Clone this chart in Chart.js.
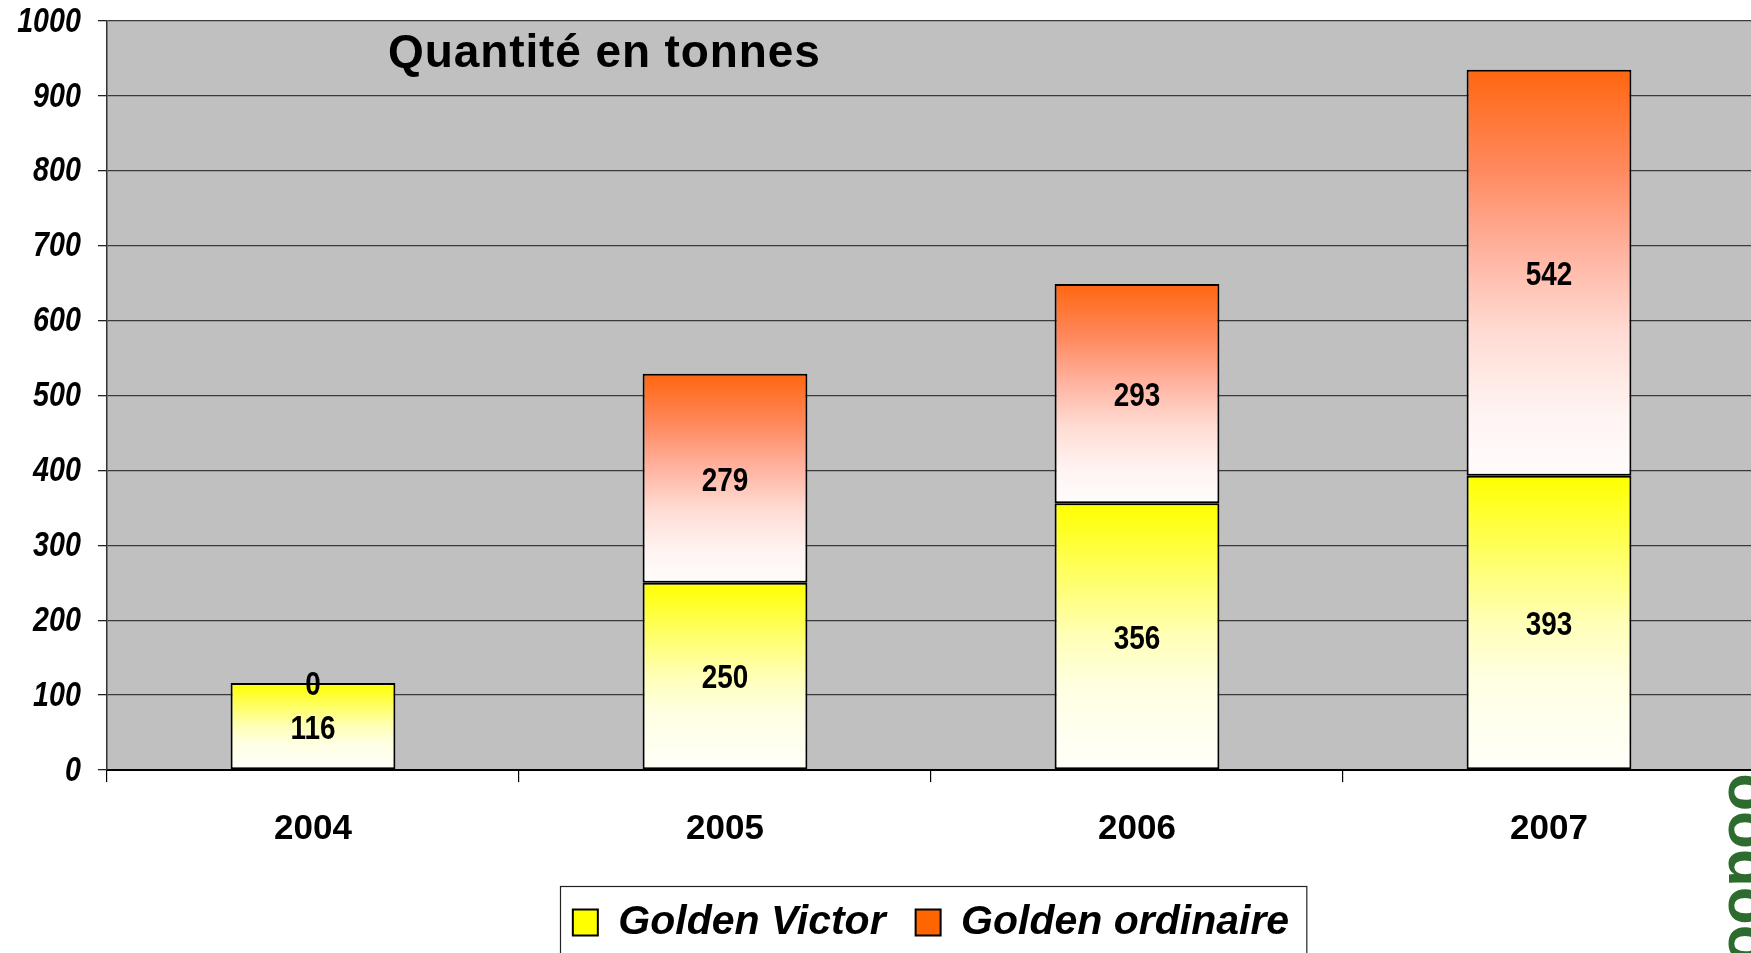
<!DOCTYPE html>
<html>
<head>
<meta charset="utf-8">
<script src="https://cdn.jsdelivr.net/npm/chart.js@4/dist/chart.umd.min.js"></script>
<style>
  html, body { margin: 0; padding: 0; background: #fff; overflow: hidden; }
  #wrap { width: 1760px; height: 953px; }
</style>
</head>
<body>
<div id="wrap"><canvas id="chart" width="1760" height="953"></canvas></div>
<script>
// data
const years = ['2004', '2005', '2006', '2007'];
const goldenVictor = [116, 250, 356, 393];
const goldenOrdinaire = [0, 279, 293, 542];
const yMin = 0;
const yMax = 1000;
const yStep = 100;

const legendColors = ['#ffff00', '#ff6600'];
const wide = "'Liberation Sans', Arial, sans-serif";
const squeeze = 0.82; // fake a condensed face, no narrow font installed

// vertical gradient per stacked segment
function segmentFill(ctx, which) {
  const solid = which === 'v' ? legendColors[0] : legendColors[1];
  const chart = ctx.chart;
  const y = chart.scales.y;
  if (ctx.type !== 'data' || !chart.chartArea || !y) return solid;
  const i = ctx.dataIndex;
  const lo = which === 'v' ? 0 : goldenVictor[i];
  const hi = which === 'v' ? goldenVictor[i] : goldenVictor[i] + goldenOrdinaire[i];
  const top = y.getPixelForValue(hi);
  const bot = y.getPixelForValue(lo);
  if (!(bot > top)) return solid;
  const g = chart.ctx.createLinearGradient(0, top, 0, bot);
  if (which === 'v') {
    g.addColorStop(0, '#ffff00');
    g.addColorStop(0.3, '#ffff70');
    g.addColorStop(0.5, '#ffffb8');
    g.addColorStop(0.7, '#ffffe4');
    g.addColorStop(1, '#fffffa');
  } else {
    g.addColorStop(0, '#ff6610');
    g.addColorStop(0.25, '#ff8a60');
    g.addColorStop(0.45, '#ffb3a0');
    g.addColorStop(0.65, '#ffdcd4');
    g.addColorStop(0.85, '#fff4f2');
    g.addColorStop(1, '#fffcfc');
  }
  return g;
}

function squeezedText(ctx, text, x, y) {
  ctx.save();
  ctx.translate(x, y);
  ctx.scale(squeeze, 1);
  ctx.fillText(text, 0, 0);
  ctx.restore();
}

// grey plot background + the cut-off green word on the right edge
const plotBg = {
  id: 'plotBg',
  beforeDraw(chart) {
    const { ctx, chartArea: a } = chart;
    ctx.save();
    ctx.translate(1729, a.bottom - 45);
    ctx.rotate(Math.PI / 2);
    ctx.fillStyle = '#2e6b2e';
    ctx.font = "bold 62px 'Liberation Sans', sans-serif";
    ctx.textBaseline = 'alphabetic';
    ctx.fillText('Goodoo', 0, 0);
    ctx.restore();
    ctx.save();
    ctx.fillStyle = '#c0c0c0';
    ctx.fillRect(a.left, a.top, a.right - a.left, a.bottom - a.top);
    ctx.restore();
  }
};

// value labels in the middle of each segment, y tick labels
const segLabels = {
  id: 'segLabels',
  afterDatasetsDraw(chart) {
    const ctx = chart.ctx;
    ctx.save();
    ctx.font = 'bold 34px ' + wide;
    ctx.fillStyle = '#000';
    ctx.textAlign = 'center';
    ctx.textBaseline = 'middle';
    chart.data.datasets.forEach((ds, di) => {
      chart.getDatasetMeta(di).data.forEach((bar, i) => {
        const p = bar.getProps(['x', 'y', 'base'], true);
        squeezedText(ctx, String(ds.data[i]), p.x, (p.y + p.base) / 2 + 3);
      });
    });

    const ys = chart.scales.y;
    ctx.font = 'italic bold 35px ' + wide;
    ctx.textAlign = 'right';
    ys.ticks.forEach(t => {
      squeezedText(ctx, String(t.value), ys.right - 26, ys.getPixelForValue(t.value) + 1);
    });
    ctx.restore();
  }
};

// title inside the plot + frame around the legend
const extras = {
  id: 'extras',
  afterDraw(chart) {
    const { ctx, chartArea: a, legend } = chart;
    ctx.save();
    ctx.fillStyle = '#000';
    ctx.font = 'bold 46px ' + wide;
    ctx.letterSpacing = '0.9px';
    ctx.textBaseline = 'alphabetic';
    ctx.textAlign = 'left';
    ctx.fillText('Quantité en tonnes', a.left + 281, a.top + 46);
    ctx.restore();

    const hb = legend.legendHitBoxes;
    if (hb && hb.length) {
      const left = Math.min(...hb.map(h => h.left)) - 13;
      const right = Math.max(...hb.map(h => h.left + h.width)) + 17;
      const mid = hb[0].top + hb[0].height / 2;
      ctx.save();
      ctx.strokeStyle = '#222';
      ctx.lineWidth = 1.2;
      ctx.strokeRect(Math.round(left) + 0.5, Math.round(mid - 37) + 0.5, right - left, 95);
      ctx.restore();
    }
  }
};

new Chart(document.getElementById('chart'), {
  type: 'bar',
  data: {
    labels: years,
    datasets: [
      {
        label: 'Golden Victor',
        data: goldenVictor,
        backgroundColor: ctx => segmentFill(ctx, 'v'),
        borderColor: '#000',
        borderWidth: 2,
        borderSkipped: false
      },
      {
        label: 'Golden ordinaire',
        data: goldenOrdinaire,
        backgroundColor: ctx => segmentFill(ctx, 'o'),
        borderColor: '#000',
        borderWidth: ctx => (ctx.raw === 0 ? 0 : 2),
        borderSkipped: false
      }
    ]
  },
  options: {
    responsive: false,
    animation: false,
    devicePixelRatio: 1,
    barPercentage: 0.4,
    categoryPercentage: 1,
    layout: { padding: { top: 21, right: 5, left: 0, bottom: 0 } },
    plugins: {
      title: { display: false },
      tooltip: { enabled: false },
      legend: {
        position: 'bottom',
        fullSize: false,
        labels: {
          boxWidth: 25,
          boxHeight: 26,
          padding: 30,
          color: '#000',
          font: { family: wide, size: 41, weight: 'bold', style: 'italic' },
          generateLabels: chart =>
            Chart.defaults.plugins.legend.labels.generateLabels(chart).map((l, i) => ({
              ...l,
              fillStyle: legendColors[i],
              strokeStyle: '#000',
              lineWidth: 2
            }))
        }
      }
    },
    scales: {
      x: {
        stacked: true,
        afterFit: s => { s.height = 102; },
        grid: { display: true, drawOnChartArea: false, tickLength: 12, color: '#000', lineWidth: 1.2 },
        border: { display: true, color: '#000', width: 2 },
        ticks: {
          color: '#000',
          padding: 26,
          font: { family: wide, size: 35, weight: 'bold' }
        }
      },
      y: {
        stacked: true,
        min: yMin,
        max: yMax,
        afterFit: s => { s.width = 107; },
        grid: { color: '#3a3a3a', lineWidth: 1.3, tickLength: 9, tickColor: '#222' },
        border: { display: true, color: '#333', width: 1.5 },
        ticks: { stepSize: yStep, display: false }
      }
    }
  },
  plugins: [plotBg, segLabels, extras]
});
</script>
</body>
</html>
